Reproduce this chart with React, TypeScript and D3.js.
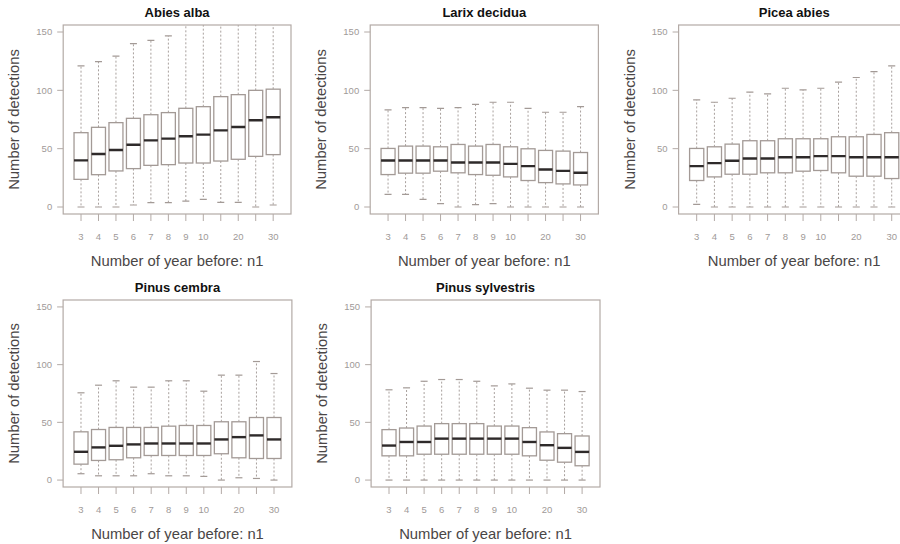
import React from "react";
import * as d3 from "d3";

const n1 = [3, 4, 5, 6, 7, 8, 9, 10, 15, 20, 25, 30];
const n1Labels = ["3", "4", "5", "6", "7", "8", "9", "10", "", "20", "", "30"];
const yTicks = [0, 50, 100, 150];

const species = ["Abies alba", "Larix decidua", "Picea abies", "Pinus cembra", "Pinus sylvestris"];

const abiesLow = [0, 0, 0, 1.7, 3.7, 3.7, 5.1, 6.6, 4, 4, 0, 1.7];
const abiesQ1 = [23.7, 27.7, 30.9, 32.9, 35.7, 36.3, 37.7, 37.7, 39.4, 40.9, 43.4, 44.9];
const abiesMed = [40, 45.4, 48.9, 53.4, 57.1, 58.6, 60.6, 62, 65.7, 68.6, 74.3, 76.9];
const abiesQ3 = [63.7, 68.3, 72.3, 76, 79.1, 80.9, 84.6, 86, 94.6, 96.3, 100, 101];
const abiesHigh = [121, 124.6, 129.4, 140, 142.9, 146.6, 162, 166, 172, 176, 182, 188];

const larixLow = [10.9, 10.9, 6.6, 2.9, 0, 2, 2.9, 0, 0, 0, 0, 0];
const larixQ1 = [27.8, 29, 29, 30.7, 29.3, 27.8, 27.2, 25.8, 22.7, 20.9, 19.8, 18.9];
const larixMed = [39.9, 39.9, 39.9, 39.9, 38.1, 38.1, 38.1, 37, 35, 32.1, 31, 29.3];
const larixQ3 = [50.2, 52.2, 52.2, 51.6, 53.6, 52.2, 53.6, 51.6, 49.9, 48.5, 47.9, 46.7];
const larixHigh = [83.2, 85.2, 85.2, 84.6, 85.2, 88, 89.8, 89.8, 84.6, 81.2, 81.2, 86];

const piceaLow = [2.3, 0, 0, 0, 0, 0, 0, 0, 0, 0, 0, 0];
const piceaQ1 = [22.7, 25.8, 28.1, 28.1, 29.3, 29.3, 30.7, 31.3, 29.3, 26.4, 26.4, 24.4];
const piceaMed = [35, 37.6, 39.6, 41.6, 41.6, 42.7, 42.7, 43.6, 43.6, 42.7, 42.7, 42.7];
const piceaQ3 = [50.2, 51.6, 53.9, 56.8, 56.8, 58.5, 58.5, 58.5, 60.2, 60.2, 62.2, 63.7];
const piceaHigh = [91.8, 89.8, 93.2, 98.4, 96.9, 101.8, 100.4, 101.8, 107, 111, 116.1, 121];

const cembraLow = [5.5, 3.7, 3.7, 3.7, 5.5, 3.7, 3.7, 3.2, 0, 2, 1.4, 0];
const cembraQ1 = [13.8, 17, 17.6, 19.3, 21.3, 21.3, 21.3, 21.3, 22.8, 19.3, 18.7, 18.7];
const cembraMed = [24.5, 28.3, 29.7, 30.9, 31.7, 31.7, 31.7, 31.7, 35.2, 37.2, 38.7, 35.2];
const cembraQ3 = [41.8, 43.8, 45.6, 45.6, 45.6, 46.7, 47.3, 47.3, 50.5, 50.5, 54.2, 54.2];
const cembraHigh = [75.6, 82.2, 86, 80.5, 80.5, 86, 86, 77, 90.9, 90.9, 102.7, 92.3];

const sylvLow = [0, 0, 0, 0, 0, 0, 0, 0, 0, 0, 0, 0];
const sylvQ1 = [21, 21, 22.4, 22.4, 22.4, 22.4, 22.4, 22.4, 21, 17.2, 15.5, 12.4];
const sylvMed = [29.9, 33, 33, 35.9, 35.9, 35.9, 35.9, 35.9, 33, 30.2, 27.9, 24.4];
const sylvQ3 = [43.7, 45.1, 46.8, 48.9, 48.9, 48.9, 46.8, 46.8, 45.4, 41.7, 40.2, 38.2];
const sylvHigh = [78.2, 79.9, 85.6, 87.1, 87.1, 85.6, 81.6, 83.3, 79.6, 77.9, 77.9, 76.7];

const seriesStats = [
  [abiesLow, abiesQ1, abiesMed, abiesQ3, abiesHigh],
  [larixLow, larixQ1, larixMed, larixQ3, larixHigh],
  [piceaLow, piceaQ1, piceaMed, piceaQ3, piceaHigh],
  [cembraLow, cembraQ1, cembraMed, cembraQ3, cembraHigh],
  [sylvLow, sylvQ1, sylvMed, sylvQ3, sylvHigh],
];

// plot frames [left, top, right, bottom]
const frames = [
  [63.2, 25, 291, 214],
  [370.2, 25, 598.4, 214],
  [678.6, 25, 909.8, 214],
  [63.1, 300, 291.9, 487],
  [371.1, 300, 600, 487],
];

const FONT = "'Liberation Sans', Arial, Helvetica, sans-serif";
const FRAME = "#b3aaa6";
const BOX = "#a39a96";
const WHISK = "#a8a09d";
const MED = "#2e2a2a";

function Panel({ idx }: { idx: number }) {
  const [l, t, r, b] = frames[idx];
  const [lo, q1, med, q3, hi] = seriesStats[idx];
  const x = d3.scaleLinear().domain([-0.02, 13.02]).range([l, r]);
  const y = d3.scaleLinear().domain([-6, 156]).range([b, t]);
  const bw = x(1.4) - x(0.6);
  const sw = bw / 2;
  const cx = (l + r) / 2;
  const cy = (t + b) / 2;
  const clipId = `clip${idx}`;
  return (
    <g>
      <defs>
        <clipPath id={clipId}>
          <rect x={l} y={t} width={r - l} height={b - t} />
        </clipPath>
      </defs>
      <text x={cx} y={t - 8} textAnchor="middle" fontFamily={FONT} fontWeight="bold" fontSize={13} fill="#111">
        {species[idx]}
      </text>
      <g clipPath={`url(#${clipId})`}>
        {n1.map((_, i) => {
          const xc = x(i + 1);
          return (
            <g key={i}>
              <line x1={xc} x2={xc} y1={y(q3[i])} y2={y(hi[i])} stroke={WHISK} strokeWidth={1} strokeDasharray="2,2" />
              <line x1={xc} x2={xc} y1={y(q1[i])} y2={y(lo[i])} stroke={WHISK} strokeWidth={1} strokeDasharray="2,2" />
              <line x1={xc - sw / 2} x2={xc + sw / 2} y1={y(hi[i])} y2={y(hi[i])} stroke={BOX} strokeWidth={1.2} />
              <line x1={xc - sw / 2} x2={xc + sw / 2} y1={y(lo[i])} y2={y(lo[i])} stroke={BOX} strokeWidth={1.2} />
              <rect x={xc - bw / 2} y={y(q3[i])} width={bw} height={y(q1[i]) - y(q3[i])} fill="white" stroke={BOX} strokeWidth={1.3} />
              <line x1={xc - bw / 2} x2={xc + bw / 2} y1={y(med[i])} y2={y(med[i])} stroke={MED} strokeWidth={2.4} />
            </g>
          );
        })}
      </g>
      <rect x={l} y={t} width={r - l} height={b - t} fill="none" stroke={FRAME} strokeWidth={1.2} />
      {yTicks.map((v) => (
        <g key={v}>
          <line x1={l - 6} x2={l} y1={y(v)} y2={y(v)} stroke={FRAME} strokeWidth={1} />
          <text x={l - 11} y={y(v) + 3.3} textAnchor="end" fontFamily={FONT} fontSize={9.5} fill="#a09a98">
            {v}
          </text>
        </g>
      ))}
      {n1.map((_, i) => (
        <g key={i}>
          <line x1={x(i + 1)} x2={x(i + 1)} y1={b} y2={b + 7} stroke={FRAME} strokeWidth={1} />
          <text x={x(i + 1)} y={b + 26} textAnchor="middle" fontFamily={FONT} fontSize={9.5} fill="#a09a98">
            {n1Labels[i]}
          </text>
        </g>
      ))}
      <text x={cx} y={b + 52} textAnchor="middle" fontFamily={FONT} fontSize={14.8} fill="#4a4646">
        Number of year before: n1
      </text>
      <text
        transform={`translate(${l - 44},${cy}) rotate(-90)`}
        textAnchor="middle"
        fontFamily={FONT}
        fontSize={14.8}
        fill="#4a4646"
      >
        Number of detections
      </text>
    </g>
  );
}

export default function App() {
  return (
    <svg
      width={900}
      height={544}
      style={{ position: "absolute", left: 0, top: 0, background: "white" }}
      xmlns="http://www.w3.org/2000/svg"
    >
      <rect width={900} height={544} fill="white" />
      {species.map((_, i) => (
        <Panel key={i} idx={i} />
      ))}
    </svg>
  );
}
